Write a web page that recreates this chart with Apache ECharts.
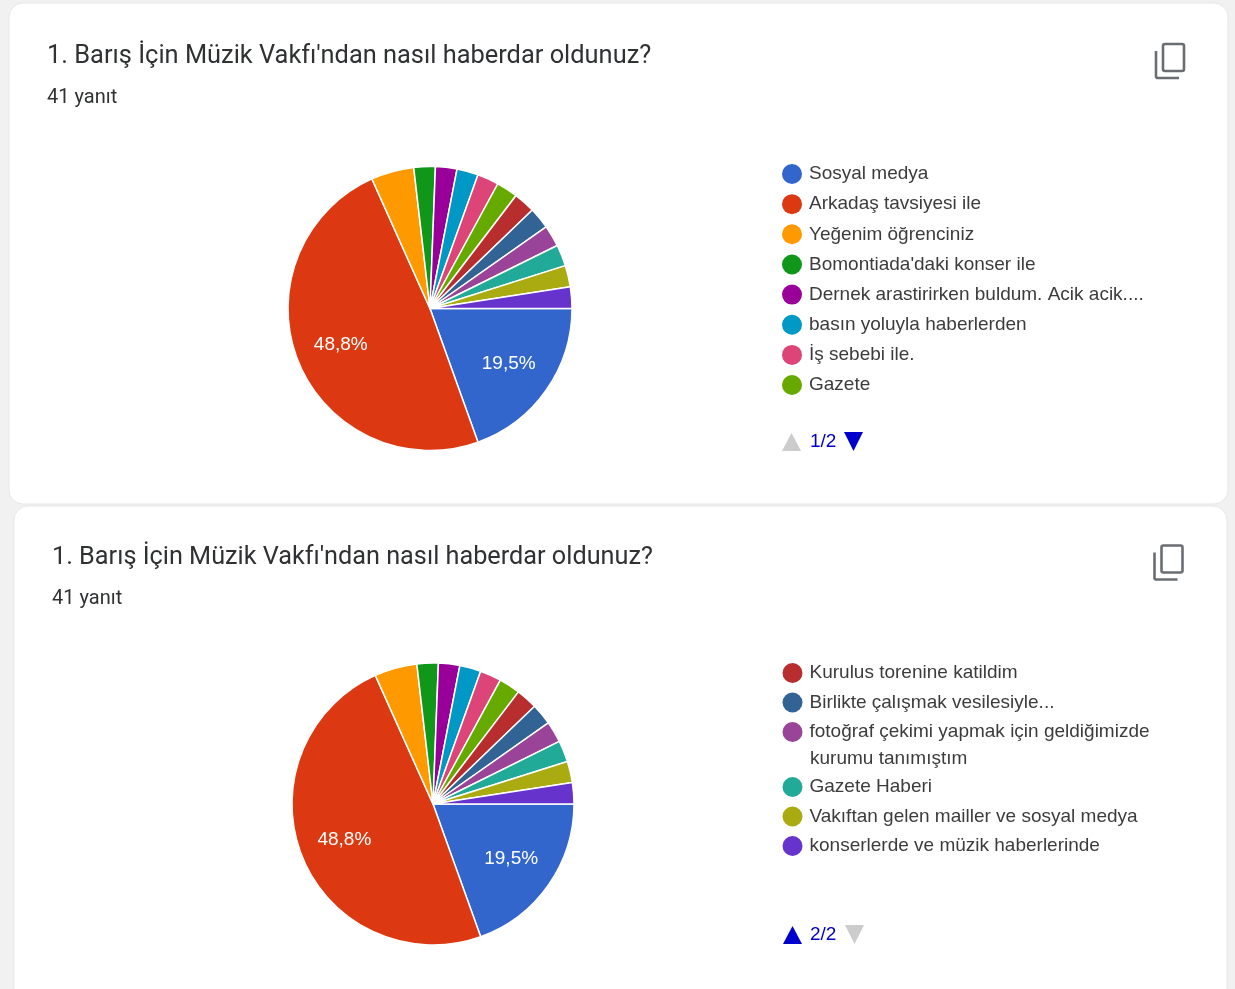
<!DOCTYPE html>
<html>
<head>
<meta charset="utf-8">
<title>Barış İçin Müzik Vakfı</title>
<style>
        html, body { margin: 0; padding: 0; background: #f1f1f1; }
        #chart { width: 1235px; height: 989px; }
</style>
<script src="https://cdn.jsdelivr.net/npm/echarts@6/dist/echarts.min.js"></script>
</head>
<body>
<div id="chart"></div>
<script>
const questionTitle = "1. Barış İçin Müzik Vakfı'ndan nasıl haberdar oldunuz?";
const answerCount = "41 yanıt";
const categories = [
        "Sosyal medya", "Arkadaş tavsiyesi ile", "Yeğenim öğrenciniz", "Bomontiada'daki konser ile",
        "Dernek arastirirken buldum. Acik acik....", "basın yoluyla haberlerden", "İş sebebi ile.", "Gazete",
        "Kurulus torenine katildim", "Birlikte çalışmak vesilesiyle...", "fotoğraf çekimi yapmak için geldiğimizde",
        "Gazete Haberi", "Vakıftan gelen mailler ve sosyal medya", "konserlerde ve müzik haberlerinde"
];
const values = [8, 20, 2, 1, 1, 1, 1, 1, 1, 1, 1, 1, 1, 1];
const colors = [
        "#3366cc", "#dc3912", "#ff9900", "#109618", "#990099", "#0099c6", "#dd4477",
        "#66aa00", "#b82e2e", "#316395", "#994499", "#22aa99", "#aaaa11", "#6633cc"
];
const labelledNames = ["Sosyal medya", "Arkadaş tavsiyesi ile"];
const wrappedLine = "kurumu tanımıştım";

const fontText = '"Liberation Sans", Arial, sans-serif';
const fontTitle = 'Roboto, sans-serif';
const textColor = '#3c3c3c';
const pieCenters = [[430, 308.5], [433, 804]];
const pieRadius = [142, 141];

const pieData = categories.map((name, i) => ({
        name: name,
        value: values[i],
        label: { show: labelledNames.includes(name) }
}));

// label inside the slice, pushed further out than echarts puts it
const pieSeries = (idx) => ({
        type: 'pie',
        center: pieCenters[idx],
        radius: [0, pieRadius[idx]],
        startAngle: 0,
        clockwise: true,
        percentPrecision: 1,
        silent: true,
        animation: false,
        itemStyle: { borderColor: '#fff', borderWidth: 1.5 },
        label: {
                position: 'inside',
                color: '#fff',
                fontFamily: fontText,
                fontSize: 19,
                formatter: (p) => p.percent.toFixed(1).replace('.', ',') + '%'
        },
        labelLine: { show: false },
        labelLayout: (p) => {
                const r = p.labelRect;
                return {
                        dx: (r.x + r.width / 2 - pieCenters[idx][0]) * 0.3,
                        dy: (r.y + r.height / 2 - pieCenters[idx][1]) * 0.3
                };
        },
        data: pieData
});

const legendBase = (names, left, top, gap) => ({
        data: names,
        orient: 'vertical',
        left: left,
        top: top,
        padding: 0,
        icon: 'circle',
        itemWidth: 20,
        itemHeight: 20,
        itemGap: gap,
        itemStyle: { borderWidth: 0 },
        textStyle: { color: textColor, fontFamily: fontText, fontSize: 19, padding: [4, 0, 0, 2] },
        selectedMode: false
});

const titleBlock = (left, top, size) => ({
        text: questionTitle,
        subtext: answerCount,
        left: left,
        top: top,
        padding: 0,
        itemGap: 19,
        textStyle: { color: '#2f3133', fontFamily: fontTitle, fontSize: size, fontWeight: 400 },
        subtextStyle: { color: '#2f3133', fontFamily: fontTitle, fontSize: 20 }
});

const card = (x, y, w, h) => ({
        type: 'rect',
        z: -10,
        shape: { x: x, y: y, width: w, height: h, r: 14 },
        style: { fill: '#fff', stroke: '#e6e7e9', lineWidth: 1 }
});

const copyIcon = (x, y) => ({
        type: 'group',
        x: x,
        y: y,
        children: [
                { type: 'rect', shape: { x: 8, y: 1, width: 21, height: 27, r: 2 }, style: { fill: 'none', stroke: '#6a6e72', lineWidth: 2.6 } },
                { type: 'polyline', shape: { points: [[1, 8], [1, 34], [2, 35], [24, 35]] }, style: { fill: 'none', stroke: '#6a6e72', lineWidth: 2.6 } }
        ]
});

const triangle = (x, y, up, color) => ({
        type: 'polygon',
        shape: { points: up ? [[x, y + 18], [x + 19, y + 18], [x + 9.5, y]] : [[x, y], [x + 19, y], [x + 9.5, y + 19]] },
        style: { fill: color }
});

const pagerText = (x, y, text) => ({
        type: 'text',
        x: x,
        y: y,
        style: { text: text, fill: '#0000cc', font: '19px ' + fontText, textVerticalAlign: 'middle' }
});

const option = {
        animation: false,
        backgroundColor: '#f1f1f1',
        color: colors,
        title: [titleBlock(47, 44, 25.4), titleBlock(52, 545, 25.25)],
        legend: [
                legendBase(categories.slice(0, 8), 782, 164, 10.15),
                legendBase(categories.slice(8, 11), 782.5, 663, 9.5),
                legendBase(categories.slice(11), 782.5, 777, 9.5)
        ],
        series: [pieSeries(0), pieSeries(1)],
        graphic: [
                card(9, 3, 1219, 501),
                card(14, 506, 1213, 500),
                copyIcon(1155, 43),
                copyIcon(1153.5, 544.5),
                triangle(782, 433, true, '#cccccc'),
                pagerText(810, 442, '1/2'),
                triangle(844, 432, false, '#0000cc'),
                triangle(783, 926, true, '#0000cc'),
                pagerText(810, 935, '2/2'),
                triangle(845, 925, false, '#cccccc'),
                {
                        type: 'text',
                        x: 810,
                        y: 759,
                        style: { text: wrappedLine, fill: textColor, font: '19px ' + fontText, textVerticalAlign: 'middle' }
                }
        ]
};

const chart = echarts.init(document.getElementById('chart'), null, { renderer: 'canvas' });
chart.setOption(option);
</script>
</body>
</html>
